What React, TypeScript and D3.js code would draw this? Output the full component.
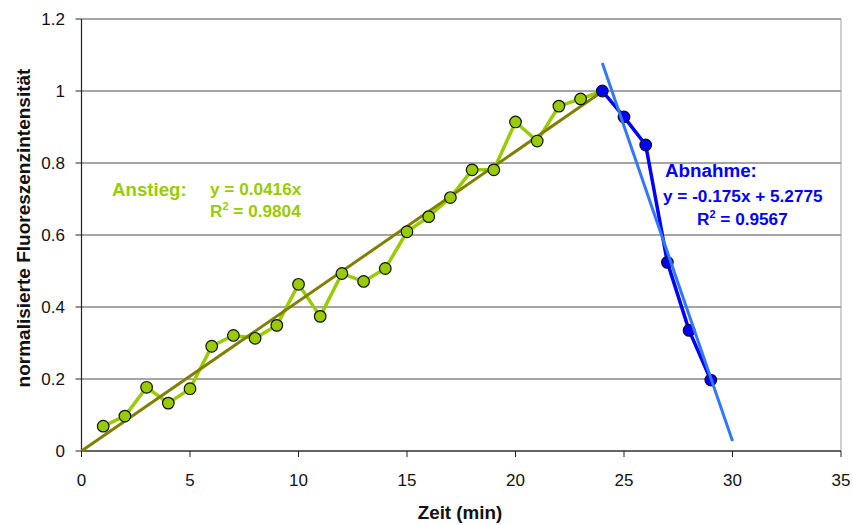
import React from "react";
import * as d3 from "d3";

const riseX = [1, 2, 3, 4, 5, 6, 7, 8, 9, 10, 11, 12, 13, 14, 15, 16, 17, 18, 19, 20, 21, 22, 23, 24];
const riseY = [0.069, 0.097, 0.177, 0.133, 0.173, 0.291, 0.321, 0.313, 0.349, 0.463, 0.374, 0.493, 0.471, 0.507, 0.609, 0.651, 0.704, 0.781, 0.781, 0.914, 0.861, 0.958, 0.978, 1.0];
const fallX = [24, 25, 26, 27, 28, 29];
const fallY = [1.0, 0.928, 0.85, 0.524, 0.335, 0.197];
const riseSlope = 0.0416;
const riseTrendRange = [0, 24];
const fallSlope = -0.175;
const fallIntercept = 5.2775;
const fallTrendRange = [24, 30];
const xTicks = [0, 5, 10, 15, 20, 25, 30, 35];
const yTicks = [0, 0.2, 0.4, 0.6, 0.8, 1, 1.2];

const W = 853;
const H = 525;
const M = { left: 81.5, right: 841, top: 19, bottom: 451 };
const FONT = "Liberation Sans, Arial, sans-serif";

export default function App() {
  const x = d3.scaleLinear().domain([0, 35]).range([M.left, M.right]);
  const y = d3.scaleLinear().domain([0, 1.2]).range([M.bottom, M.top]);
  const line = d3
    .line<[number, number]>()
    .x((d) => x(d[0]))
    .y((d) => y(d[1]));
  const rise: [number, number][] = riseX.map((v, i) => [v, riseY[i]]);
  const fall: [number, number][] = fallX.map((v, i) => [v, fallY[i]]);
  const riseTrend: [number, number][] = riseTrendRange.map((v) => [v, riseSlope * v]);
  const fallTrend: [number, number][] = fallTrendRange.map((v) => [v, fallSlope * v + fallIntercept]);

  return (
    <svg
      width={W}
      height={H}
      style={{ position: "absolute", left: 0, top: 0 }}
      fontFamily={FONT}
    >
      <rect x={0} y={0} width={W} height={H} fill="#fff" />
      {/* grid */}
      {yTicks.map((t) => (
        <line key={"g" + t} x1={M.left} x2={M.right} y1={y(t)} y2={y(t)} stroke="#4d4d4d" strokeWidth={1} />
      ))}
      <line x1={M.right} x2={M.right} y1={M.top} y2={M.bottom} stroke="#a0a0a0" strokeWidth={1} />
      {/* axes */}
      <line x1={M.left} x2={M.left} y1={M.top} y2={M.bottom} stroke="#222" strokeWidth={1.2} />
      <line x1={M.left} x2={M.right} y1={M.bottom} y2={M.bottom} stroke="#222" strokeWidth={1.2} />
      {yTicks.map((t) => (
        <g key={"y" + t}>
          <line x1={M.left - 6} x2={M.left} y1={y(t)} y2={y(t)} stroke="#222" />
          <text x={65} y={y(t)} dy="0.36em" textAnchor="end" fontSize={17} fill="#111">
            {t}
          </text>
        </g>
      ))}
      {xTicks.map((t) => (
        <g key={"x" + t}>
          <line x1={x(t)} x2={x(t)} y1={M.bottom} y2={M.bottom + 6} stroke="#222" />
          <text x={x(t)} y={486} textAnchor="middle" fontSize={17} fill="#111">
            {t}
          </text>
        </g>
      ))}
      {/* series */}
      <path d={line(rise) || ""} fill="none" stroke="#99CC00" strokeWidth={3.5} strokeLinejoin="round" />
      <path d={line(riseTrend) || ""} fill="none" stroke="#808000" strokeWidth={3} />
      <path d={line(fall) || ""} fill="none" stroke="#0000FF" strokeWidth={3.5} strokeLinejoin="round" />
      {rise.slice(0, -1).map((d, i) => (
        <circle key={"r" + i} cx={x(d[0])} cy={y(d[1])} r={5.8} fill="#99CC00" stroke="#111" strokeWidth={1.2} />
      ))}
      {fall.map((d, i) => (
        <circle key={"f" + i} cx={x(d[0])} cy={y(d[1])} r={5.8} fill="#0000FF" stroke="#111" strokeWidth={1.2} />
      ))}
      <path d={line(fallTrend) || ""} fill="none" stroke="#3377FF" strokeWidth={3} />
      {/* annotations */}
      <text x={112} y={196} fontSize={18.7} fontWeight="bold" fill="#99CC00">Anstieg:</text>
      <text x={210} y={195} fontSize={17.2} fontWeight="bold" fill="#99CC00">y = 0.0416x</text>
      <text x={210} y={217} fontSize={17.2} fontWeight="bold" fill="#99CC00">
        R<tspan dy={-7} fontSize={11}>2</tspan><tspan dy={7}> = 0.9804</tspan>
      </text>
      <text x={665} y={177} fontSize={18.8} fontWeight="bold" fill="#0000FF">Abnahme:</text>
      <text x={663} y={202} fontSize={17.2} fontWeight="bold" fill="#0000FF">y = -0.175x + 5.2775</text>
      <text x={697} y={225} fontSize={17.2} fontWeight="bold" fill="#0000FF">
        R<tspan dy={-7} fontSize={11}>2</tspan><tspan dy={7}> = 0.9567</tspan>
      </text>
      {/* axis titles */}
      <text x={460} y={519} textAnchor="middle" fontSize={18.8} fontWeight="bold" fill="#111">Zeit (min)</text>
      <text
        transform={`translate(30, 228) rotate(-90)`}
        textAnchor="middle"
        fontSize={19}
        fontWeight="bold"
        fill="#111"
      >
        normalisierte Fluoreszenzintensität
      </text>
    </svg>
  );
}
